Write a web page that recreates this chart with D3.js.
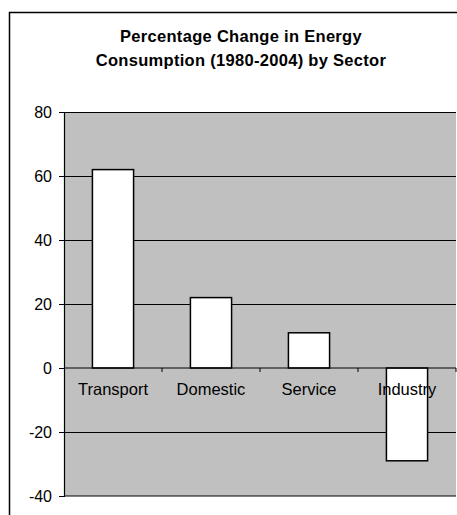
<!DOCTYPE html>
<html>
<head>
<meta charset="utf-8">
<script src="https://cdn.jsdelivr.net/npm/d3@7"></script>
<style>
  body { margin: 0; background: #fff; }
  svg text { font-family: Arial, "Liberation Sans", sans-serif; fill: #000; }
</style>
</head>
<body>
<div id="chart"></div>
<script>
const categories = ['Transport', 'Domestic', 'Service', 'Industry']
const values = [62, 22, 11, -29]
const yTicks = [-40, -20, 0, 20, 40, 60, 80]
const titleLines = ['Percentage Change in Energy', 'Consumption (1980-2004) by Sector']

const W = 457
const H = 515
const plot = { left: 64, right: 456, top: 112, bottom: 496 }

const svg = d3.select('#chart')
  .append('svg')
  .attr('width', W)
  .attr('height', H)

// outer chart frame (runs past the right and bottom edges)
svg.append('rect')
  .attr('x', 9.5)
  .attr('y', 12.5)
  .attr('width', 464)
  .attr('height', 520)
  .attr('fill', '#fff')
  .attr('stroke', '#000')
  .attr('stroke-width', 1.5)

svg.append('g')
  .selectAll('text')
  .data(titleLines)
  .enter()
  .append('text')
  .attr('x', 241)
  .attr('y', (d, i) => 42 + i * 24)
  .attr('text-anchor', 'middle')
  .style('font-size', '16.5px')
  .style('font-weight', 'bold')
  .style('letter-spacing', '0.3px')
  .text(d => d)

const y = d3.scaleLinear()
  .domain([-40, 80])
  .range([plot.bottom, plot.top])

const x = d3.scaleBand()
  .domain(categories)
  .range([plot.left, plot.right])
  .padding(0)

// plot area
svg.append('rect')
  .attr('x', plot.left)
  .attr('y', plot.top)
  .attr('width', plot.right - plot.left)
  .attr('height', plot.bottom - plot.top)
  .attr('fill', '#c0c0c0')

// gridlines
svg.append('g')
  .selectAll('line')
  .data(yTicks.filter(d => d !== 0 && d !== -40))
  .enter()
  .append('line')
  .attr('x1', plot.left)
  .attr('x2', plot.right)
  .attr('y1', d => Math.round(y(d)) + 0.5)
  .attr('y2', d => Math.round(y(d)) + 0.5)
  .attr('stroke', '#000')
  .attr('stroke-width', 1)

// y axis
const yAxis = svg.append('g')
  .attr('transform', `translate(${plot.left}, 0)`)
  .call(d3.axisLeft(y).tickValues(yTicks).tickSize(5).tickPadding(7).tickFormat(d => String(d)))
yAxis.select('.domain').attr('stroke', '#000').attr('stroke-width', 1.2)
yAxis.selectAll('.tick line').attr('stroke', '#000')
yAxis.selectAll('.tick text')
  .style('font-size', '16px')
  .style('font-family', 'Arial, "Liberation Sans", sans-serif')

// bottom line of plot at -40
svg.append('line')
  .attr('x1', plot.left)
  .attr('x2', plot.right)
  .attr('y1', y(-40))
  .attr('y2', y(-40))
  .attr('stroke', '#000')

// bars
const barW = x.bandwidth() * 0.42
svg.append('g')
  .selectAll('rect')
  .data(values)
  .enter()
  .append('rect')
  .attr('x', (d, i) => x(categories[i]) + (x.bandwidth() - barW) / 2)
  .attr('y', d => y(Math.max(0, d)))
  .attr('width', barW)
  .attr('height', d => Math.abs(y(d) - y(0)))
  .attr('fill', '#fff')
  .attr('stroke', '#000')
  .attr('stroke-width', 1.5)

// zero axis with category ticks
svg.append('line')
  .attr('x1', plot.left)
  .attr('x2', plot.right)
  .attr('y1', y(0))
  .attr('y2', y(0))
  .attr('stroke', '#000')
  .attr('stroke-width', 1.2)

svg.append('g')
  .selectAll('line')
  .data(categories)
  .enter()
  .append('line')
  .attr('x1', d => x(d) + x.bandwidth())
  .attr('x2', d => x(d) + x.bandwidth())
  .attr('y1', y(0))
  .attr('y2', y(0) + 4)
  .attr('stroke', '#000')

svg.append('g')
  .selectAll('text')
  .data(categories)
  .enter()
  .append('text')
  .attr('x', d => x(d) + x.bandwidth() / 2)
  .attr('y', y(0) + 27)
  .attr('text-anchor', 'middle')
  .style('font-size', '16.5px')
  .text(d => d)
</script>
</body>
</html>
